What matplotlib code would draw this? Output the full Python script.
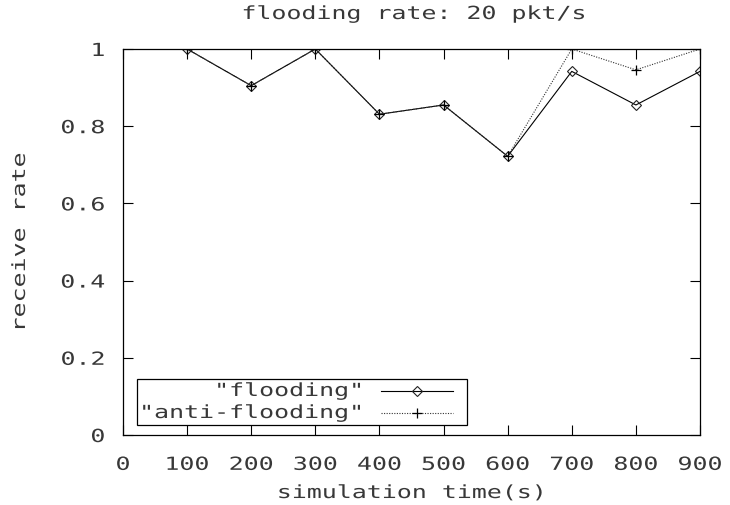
import matplotlib
matplotlib.use("Agg")
import matplotlib.pyplot as plt
from matplotlib.patches import Rectangle
from matplotlib.patheffects import AbstractPathEffect
from matplotlib.transforms import Affine2D

# receive rate over simulation time
sim_time = [100, 200, 300, 400, 500, 600, 700, 800, 900]
flooding = [1.0, 0.905, 1.0, 0.831, 0.855, 0.722, 0.942, 0.855, 0.942]
anti_flooding = [1.0, 0.905, 1.0, 0.831, 0.855, 0.722, 1.0, 0.946, 1.0]
series_labels = ['"flooding"', '"anti-flooding"']
x_ticks = [0, 100, 200, 300, 400, 500, 600, 700, 800, 900]
y_ticks = [0, 0.2, 0.4, 0.6, 0.8, 1.0]
y_tick_labels = ["0", "0.2", "0.4", "0.6", "0.8", "1"]


class Widen(AbstractPathEffect):
    """Stretch text glyphs horizontally around an anchor (0=left, 0.5=centre, 1=right)."""

    def __init__(self, sx=1.38, anchor=0.5):
        super().__init__()
        self.sx = sx
        self.anchor = anchor

    def draw_path(self, renderer, gc, tpath, affine, rgbFace=None):
        ext = tpath.get_extents()
        x0 = ext.x0 + self.anchor * ext.width
        t = Affine2D().translate(-x0, 0).scale(self.sx, 1).translate(x0, 0) + affine
        renderer.draw_path(gc, tpath, t, rgbFace)


TEXT_COLOR = "#383838"
plt.rcParams["font.family"] = ["DejaVu Sans Mono"]
plt.rcParams["font.size"] = 13

fig = plt.figure(figsize=(7.3, 5.05), dpi=100)
ax = fig.add_axes([123 / 730, 1 - 435 / 505, (700 - 123) / 730, (435 - 49) / 505])

flood_style = dict(color="black", lw=0.8, marker="D", ms=5.2,
                   mfc="none", mec="#222222", mew=0.8)
anti_style = dict(color="#333333", lw=0.8, ls=(0, (1, 1.3)),
                  marker="+", ms=7.5, mec="black", mew=0.9)

ax.plot(sim_time, flooding, **flood_style)
ax.plot(sim_time, anti_flooding, **anti_style)

ax.set_xlim(0, 900)
ax.set_ylim(0, 1)
ax.set_xticks(x_ticks)
ax.set_yticks(y_ticks)
ax.set_yticklabels(y_tick_labels)
ax.tick_params(direction="in", length=7.5, width=0.8, top=True, right=True,
               colors="black", labelcolor=TEXT_COLOR)
ax.tick_params(axis="x", pad=15)
ax.tick_params(axis="y", pad=13)
for s in ax.spines.values():
    s.set_linewidth(0.9)
    s.set_color("black")

for lab in ax.get_xticklabels():
    lab.set_path_effects([Widen(anchor=0.5)])
for lab in ax.get_yticklabels():
    lab.set_path_effects([Widen(anchor=1.0)])

fig.text(414 / 730, 1 - 14 / 505, "flooding rate: 20 pkt/s", ha="center",
         va="center", color=TEXT_COLOR, path_effects=[Widen(anchor=0.5)])
ax.set_xlabel("simulation time(s)", color=TEXT_COLOR, path_effects=[Widen(anchor=0.5)])
ax.set_ylabel("receive rate", color=TEXT_COLOR, path_effects=[Widen(anchor=0.5)])
ax.xaxis.set_label_coords(0.5, -0.127)
ax.yaxis.set_label_coords(-0.163, 0.5)

# key box in the lower-left corner, text first and sample after it
box = Rectangle((0.0243, 0.026), 0.572, 0.119, transform=ax.transAxes,
                fill=False, edgecolor="black", lw=0.9, clip_on=False)
ax.add_patch(box)
rows = [0.114, 0.057]
for label, style, yr in zip(series_labels, [flood_style, anti_style], rows):
    ax.text(0.416, yr, label, transform=ax.transAxes, ha="right", va="center",
            color=TEXT_COLOR, path_effects=[Widen(anchor=1.0)])
    ax.plot([0.447, 0.5095, 0.572], [yr, yr, yr], transform=ax.transAxes,
            markevery=[1], clip_on=False, **style)

fig.savefig("out.png", dpi=100)
